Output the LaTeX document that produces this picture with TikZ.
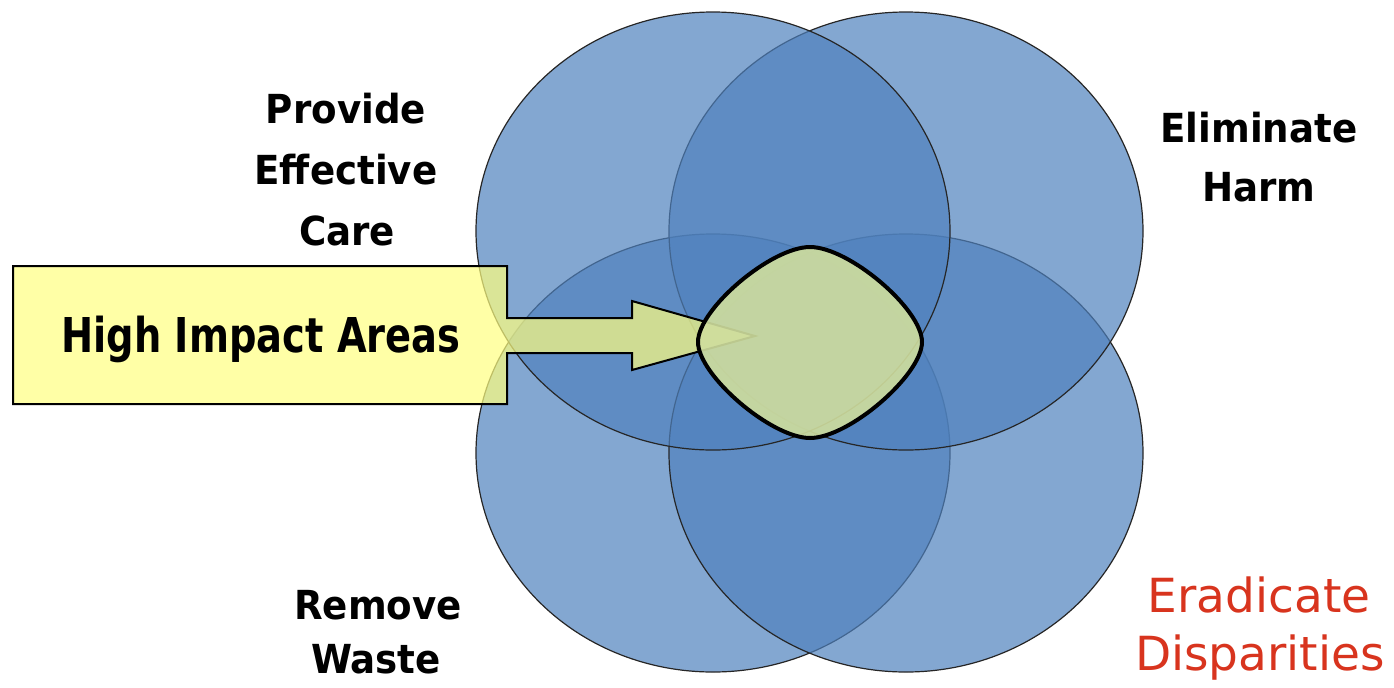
\documentclass[tikz,border=0pt]{standalone}
\usepackage{fontspec}
\setmainfont{DejaVu Sans}
\newfontfamily\hiafont{DejaVu Sans}[FakeStretch=0.8]
\newfontfamily\labfont{DejaVu Sans}[FakeStretch=0.93]
\definecolor{vennblue}{RGB}{79,129,189}
\definecolor{arrowyellow}{RGB}{255,255,128}
\definecolor{coreyellow}{RGB}{208,222,158}
\definecolor{redtext}{RGB}{216,52,30}
\tikzset{
  venn/.style={fill=vennblue, fill opacity=0.7, draw=black!85, line width=0.6pt},
  label/.style={anchor=base, inner sep=0pt, font=\labfont\fontsize{20}{24}\selectfont\bfseries},
  redlabel/.style={anchor=base, inner sep=0pt, text=redtext, font=\fontsize{23.5}{28}\selectfont},
  hialabel/.style={anchor=base, inner sep=0pt, font=\hiafont\fontsize{24}{29}\selectfont\bfseries},
  arrowshape/.style={fill=arrowyellow, fill opacity=0.7, draw=black, line width=1pt, line join=miter},
  coreshape/.style={fill=coreyellow, fill opacity=0.9, draw=black, line width=2pt}
}
\begin{document}
\begin{tikzpicture}[x=0.5pt, y=-0.5pt]
\useasboundingbox (0,0) rectangle (1394,687);
% circles (bottom ones first, then top-right, then top-left)
\path[venn] (713,453) ellipse [x radius=118.5pt, y radius=109.5pt];
\path[venn] (906,453) ellipse [x radius=118.5pt, y radius=109.5pt];
\path[venn] (906,231) ellipse [x radius=118.5pt, y radius=109.5pt];
\path[venn] (713,231) ellipse [x radius=118.5pt, y radius=109.5pt];
% block arrow
\draw[arrowshape] (13,266) -- (507,266) -- (507,318) -- (632,318) -- (632,301)
  -- (755,336) -- (632,370) -- (632,353) -- (507,353) -- (507,404) -- (13,404) -- cycle;
% central high impact area
\coordinate (cl) at (698,342);
\coordinate (ct) at (810,247);
\coordinate (cr) at (922,342);
\coordinate (cb) at (810,438);
\draw[coreshape] (cl) .. controls (698,309) and (771,247) .. (ct)
  .. controls (849,247) and (922,309) .. (cr)
  .. controls (922,375) and (849,438) .. (cb)
  .. controls (771,438) and (698,375) .. (cl) -- cycle;
% labels
\node[hialabel] (hia) at (261,352) {High Impact Areas};
\node[label] (pec1) at (346,123) {Provide};
\node[label] (pec2) at (346,184) {Effective};
\node[label] (pec3) at (347,245) {Care};
\node[label] (eh1) at (1259,142) {Eliminate};
\node[label] (eh2) at (1259,201) {Harm};
\node[label] (rw1) at (378,619) {Remove};
\node[label] (rw2) at (376,673) {Waste};
\node[redlabel] (ed1) at (1259,612) {Eradicate};
\node[redlabel] (ed2) at (1260,670) {Disparities};
\end{tikzpicture}
\end{document}
